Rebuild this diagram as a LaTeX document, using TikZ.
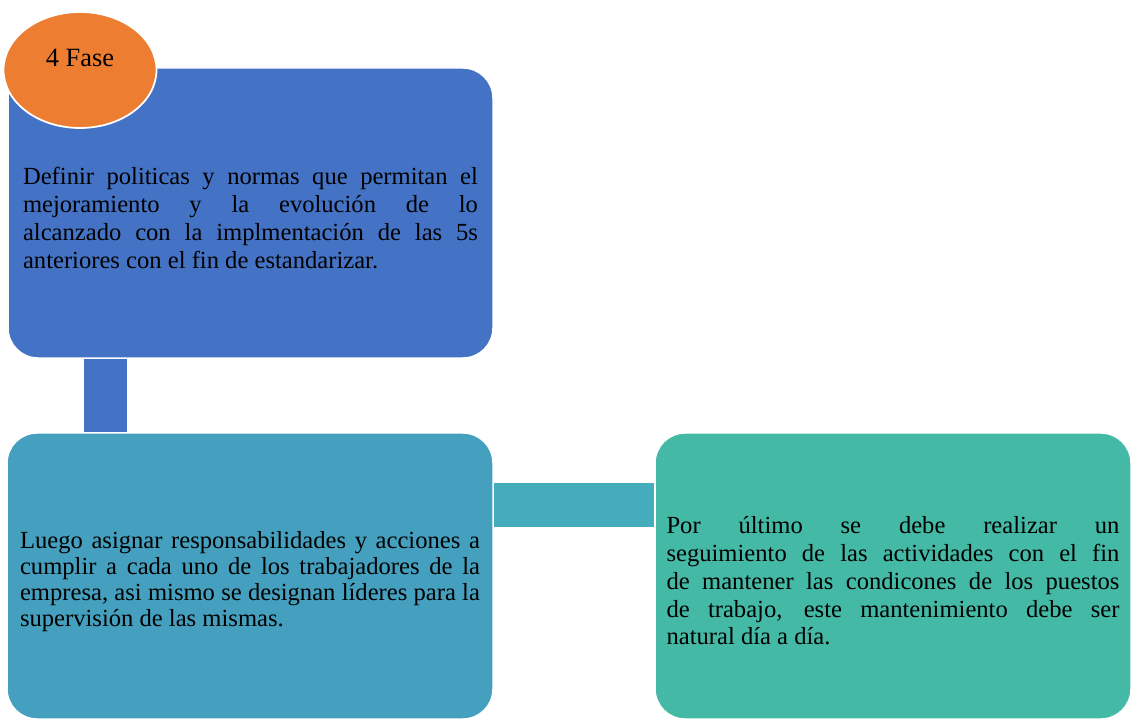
\documentclass[tikz,border=0pt]{standalone}
\usepackage{fontspec}
\setmainfont{Liberation Serif}
\usetikzlibrary{positioning,shapes.geometric}
\definecolor{faseblue}{RGB}{68,114,196}
\definecolor{faseorange}{RGB}{237,125,49}
\definecolor{luegoteal}{RGB}{68,160,190}
\definecolor{linkteal}{RGB}{68,172,186}
\definecolor{segugreen}{RGB}{68,185,165}
\begin{document}
\begin{tikzpicture}[x=0.02cm,y=-0.02cm,
    fasebox/.style={rectangle,rounded corners=0.6cm,draw=white,line width=0.8pt,
      minimum height=5.8cm,text width=9.1cm,align=justify,inner sep=0pt,
      font=\fontsize{14}{15.9}\selectfont,
      execute at begin node={\hyphenpenalty=10000\exhyphenpenalty=10000\tolerance=9999\emergencystretch=2em}},
    bar/.style={line width=0.87cm,line cap=butt}]
    \useasboundingbox (0,0) rectangle (1132,719);
    % top box
    \node[fasebox,fill=faseblue,minimum width=9.7cm] (def) at (250.5,213)
      {\rule{0pt}{0.54cm}Definir politicas y normas que permitan el\linebreak mejoramiento y la evolución de lo\linebreak alcanzado con la implmentación de las 5s\linebreak anteriores con el fin de estandarizar.};
    \node[ellipse,fill=faseorange,draw=white,line width=1pt,
      minimum width=3.06cm,minimum height=2.32cm] (fase) at (80,70) {};
    \node[font=\fontsize{15}{17}\selectfont] (faselbl) at (80,58) {4 Fase};
    % bottom boxes
    \node[fasebox,fill=luegoteal,minimum width=9.72cm,minimum height=5.72cm,text width=9.2cm,
      font=\fontsize{14}{14.9}\selectfont] (luego) at (250,576)
      {\rule{0pt}{0.56cm}Luego asignar responsabilidades y acciones a\linebreak cumplir a cada uno de los trabajadores de la\linebreak empresa, asi mismo se designan líderes para la\linebreak supervisión de las mismas.};
    \node[fasebox,fill=segugreen,minimum width=9.52cm,minimum height=5.72cm,text width=9.06cm,
      font=\fontsize{14}{15.8}\selectfont] (segu) at (893,576)
      {\rule{0pt}{0.54cm}Por último se debe realizar un\linebreak seguimiento de las actividades con el fin\linebreak de mantener las condicones de los puestos\linebreak de trabajo, este mantenimiento debe ser\linebreak natural día a día.};
    % links
    \coordinate (vx) at (105.5,0);\coordinate (hy) at (0,505);
    \draw[bar,faseblue](def.south -| vx) -- (luego.north -| vx);
    \draw[bar,linkteal](luego.east |- hy) -- (segu.west |- hy);
\end{tikzpicture}
\end{document}
